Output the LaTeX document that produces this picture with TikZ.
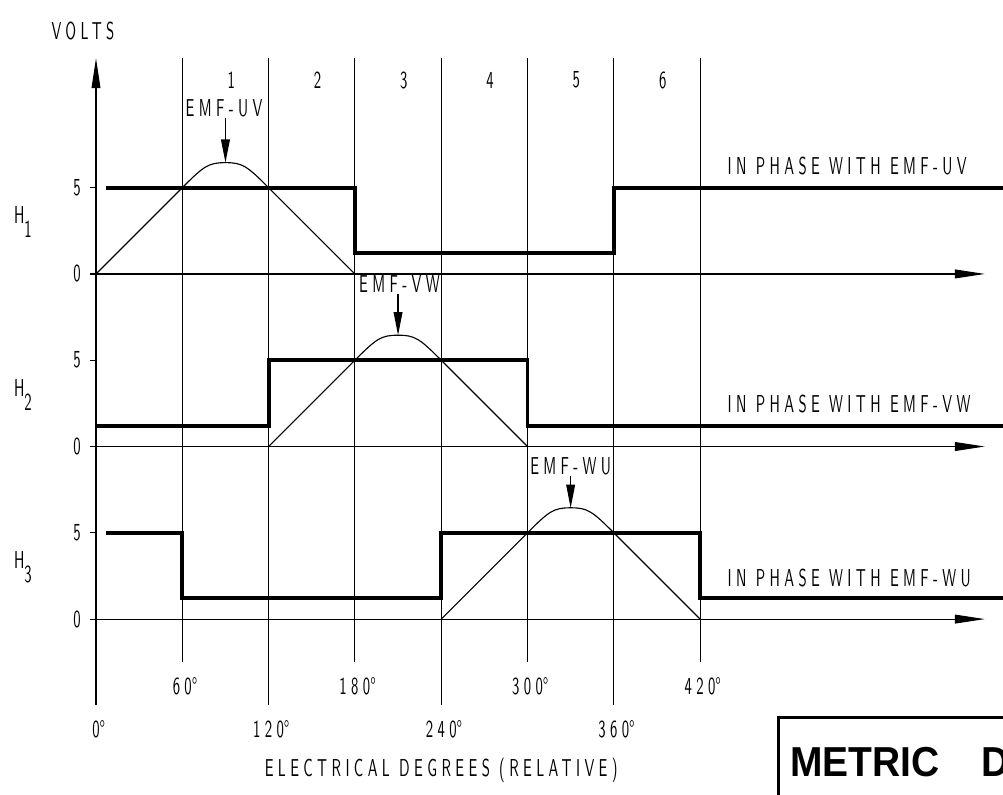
\documentclass[tikz,border=0pt]{standalone}
\usepackage{fontspec}
\usepackage{tikz}
\usetikzlibrary{arrows.meta}
\newfontfamily\draftfont{lmsans10-regular.otf}[FakeStretch=0.6, LetterSpace=18]
\newfontfamily\titlefont{Liberation Sans}[FakeStretch=0.93]

\begin{document}
\begin{tikzpicture}[x=0.03596cm, y=0.4315cm,
        >={Triangle[length=0.75cm, width=0.22cm]},
        grid/.style={line width=0.8pt},
        wave/.style={line width=2.8pt},
        pointer/.style={line width=0.8pt, -{Triangle[length=0.58cm, width=0.22cm]}},
        txt/.style={font=\draftfont\fontsize{17.4}{20}\selectfont, inner sep=1pt}]

        \useasboundingbox (-66.75, 15.875) rectangle (630.6, -30.185);
        \clip (-66.75, 15.875) rectangle (630.6, -30.185);

        \coordinate (ybot) at (0, -25);
        \coordinate (ytop) at (0, 12.5);
        \draw [grid, ->] (ybot) -- (ytop);
        \draw [grid] (60, 12.5) -- (60, -22.5) (120, 12.5) -- (120, -25)
            (180, 12.5) -- (180, -22.5) (240, 12.5) -- (240, -25)
            (300, 12.5) -- (300, -22.5) (360, 12.5) -- (360, -25)
            (420, 12.5) -- (420, -22.5);

        \draw [grid, ->] (-4, 0) -- (618, 0);
        \draw [grid, ->] (-4, -10) -- (618, -10);
        \draw [grid, ->] (-4, -20) -- (618, -20);
        \draw [grid] (-4, 5) -- (0, 5) (-4, -5) -- (0, -5) (-4, -15) -- (0, -15);

        \draw [wave] (7, 5) -- (180, 5) -- (180, 1.2) -- (360, 1.2) -- (360, 5) -- (640, 5);
        \draw [wave] (0, -8.8) -- (120, -8.8) -- (120, -5) -- (300, -5) -- (300, -8.8) -- (640, -8.8);
        \draw [wave] (7, -15) -- (60, -15) -- (60, -18.8) -- (240, -18.8) -- (240, -15)
            -- (420, -15) -- (420, -18.8) -- (640, -18.8);

        \coordinate (uvtop) at (90, 6.45);
        \coordinate (vwtop) at (210, -3.55);
        \coordinate (wutop) at (330, -13.55);
        \draw [grid] (0, 0) -- (60, 5) .. controls (75, 6.25) and (78, 6.45) .. (uvtop)
            .. controls (102, 6.45) and (105, 6.25) .. (120, 5) -- (180, 0);
        \draw [grid] (120, -10) -- (180, -5) .. controls (195, -3.75) and (198, -3.55) .. (vwtop)
            .. controls (222, -3.55) and (225, -3.75) .. (240, -5) -- (300, -10);
        \draw [grid] (240, -20) -- (300, -15) .. controls (315, -13.75) and (318, -13.55) .. (wutop)
            .. controls (342, -13.55) and (345, -13.75) .. (360, -15) -- (420, -20);

        \node (uvlbl) [txt, anchor=base] at (89, 9.15) {EMF-UV};
        \node (vwlbl) [txt, anchor=base] at (211, -1.08) {EMF-VW};
        \node (wulbl) [txt, anchor=base] at (330, -11.6) {EMF-WU};
        \draw [pointer] (uvlbl.south -| uvtop) -- (uvtop);
        \draw [pointer] (vwlbl.south -| vwtop) -- (vwtop);
        \draw [pointer] (wulbl.south -| wutop) -- (wutop);

        \node (uvphase) [txt, anchor=base west] at (438, 5.74) {IN PHASE WITH EMF-UV};
        \node (vwphase) [txt, anchor=base west] at (438, -8.03) {IN PHASE WITH EMF-VW};
        \node (wuphase) [txt, anchor=base west] at (438, -18.09) {IN PHASE WITH EMF-WU};

        \node (volts) [txt] at (-9, 14.05) {VOLTS};
        \node (seg1) [txt] at (94, 11.24) {1};
        \node (seg2) [txt] at (154, 11.24) {2};
        \node (seg3) [txt] at (214, 11.24) {3};
        \node (seg4) [txt] at (274, 11.24) {4};
        \node (seg5) [txt] at (334, 11.24) {5};
        \node (seg6) [txt] at (394, 11.24) {6};

        \node (hi1) [txt] at (-13.2, 5) {5};
        \node (lo1) [txt] at (-13.2, 0) {0};
        \node (hi2) [txt] at (-13.2, -5) {5};
        \node (lo2) [txt] at (-13.2, -10) {0};
        \node (hi3) [txt] at (-13.2, -15) {5};
        \node (lo3) [txt] at (-13.2, -20) {0};
        \node (h1) [txt] at (-50.8, 3) {H\raisebox{-10pt}{1}};
        \node (h2) [txt] at (-50.8, -7) {H\raisebox{-10pt}{2}};
        \node (h3) [txt] at (-50.8, -17) {H\raisebox{-10pt}{3}};

        \node (deg60) [txt, anchor=base] at (60, -24.39) {60\rlap{°}};
        \node (deg180) [txt, anchor=base] at (180, -24.39) {180\rlap{°}};
        \node (deg300) [txt, anchor=base] at (300, -24.39) {300\rlap{°}};
        \node (deg420) [txt, anchor=base] at (420, -24.39) {420\rlap{°}};
        \node (deg0) [txt, anchor=base] at (0, -26.88) {0\rlap{°}};
        \node (deg120) [txt, anchor=base] at (120, -26.88) {120\rlap{°}};
        \node (deg240) [txt, anchor=base] at (240, -26.88) {240\rlap{°}};
        \node (deg360) [txt, anchor=base] at (360, -26.88) {360\rlap{°}};
        \node (xlbl) [txt, anchor=base] at (240, -29.14) {ELECTRICAL DEGREES (RELATIVE)};

        \draw [line width=2.2pt] (474.2, -40) rectangle (700, -25.72);
        \node (metric) [anchor=base west, inner sep=0pt, font=\titlefont\bfseries\fontsize{29.8}{32}\selectfont]
            at (482.5, -29.14) {METRIC\hspace{1.05cm}D};
\end{tikzpicture}
\end{document}
